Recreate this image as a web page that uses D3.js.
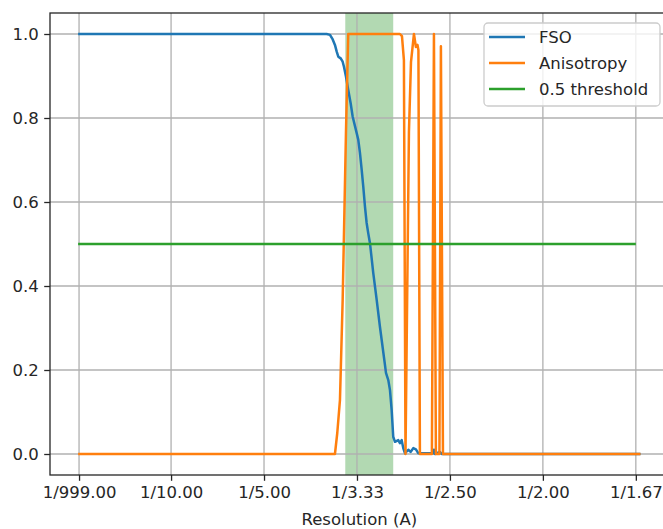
<!DOCTYPE html>
<html>
<head>
<meta charset="utf-8">
<script src="https://cdn.jsdelivr.net/npm/d3@7"></script>
<style>
  body { margin: 0; background: white; }
  text { font-family: "DejaVu Sans", sans-serif; fill: #262626; }
</style>
</head>
<body>
<svg id="chart"></svg>
<script>
// frequency (1/A) and value pairs
var fsoFreq = [0, 0.2674, 0.2710, 0.2739, 0.2763, 0.2782, 0.2799, 0.2825, 0.2846, 0.2860, 0.2882, 0.2906, 0.2932, 0.2954, 0.2997, 0.3014, 0.3032, 0.3051, 0.3068, 0.3086, 0.3104, 0.3121, 0.3140, 0.3175, 0.3212, 0.3247, 0.3301, 0.3312, 0.3337, 0.3355, 0.3373, 0.3390, 0.3409, 0.3444, 0.3462, 0.3481, 0.3498, 0.3516, 0.3552, 0.3577, 0.3606, 0.3634, 0.3659, 0.3820, 0.3828, 0.3839, 0.3892, 0.3911, 0.605]
var fsoValues = [1.0, 1.0, 0.998, 0.987, 0.974, 0.958, 0.946, 0.942, 0.934, 0.922, 0.898, 0.867, 0.835, 0.803, 0.764, 0.748, 0.717, 0.676, 0.636, 0.589, 0.550, 0.526, 0.502, 0.431, 0.367, 0.303, 0.212, 0.193, 0.176, 0.152, 0.105, 0.041, 0.029, 0.033, 0.026, 0.033, 0.014, 0.002, 0.010, 0.005, 0.014, 0.011, 0.002, 0.002, 0.010, 0.0, 0.005, 0.0, 0.0]

var anisoFreq = [0, 0.2763, 0.2788, 0.2817, 0.2846, 0.2882, 0.2906, 0.3462, 0.3484, 0.3505, 0.3522, 0.3559, 0.3581, 0.3613, 0.3634, 0.3651, 0.3661, 0.3677, 0.3806, 0.3828, 0.3849, 0.3887, 0.3903, 0.3925, 0.605]
var anisoValues = [0, 0, 0.05, 0.129, 0.367, 0.771, 1.0, 1.0, 0.995, 0.938, 0, 0.767, 0.933, 1.0, 0.969, 0.974, 0.962, 0, 0, 1.0, 0, 0, 0.971, 0, 0]

var thresholdFreq = [0, 0.6]
var thresholdValues = [0.5, 0.5]

var spanFreq = [0.2874, 0.3390]

var xTicks = [0.001, 0.1, 0.2, 0.3, 0.4, 0.5, 0.6]
var xTickLabels = ["1/999.00", "1/10.00", "1/5.00", "1/3.33", "1/2.50", "1/2.00", "1/1.67"]
var yTicks = [0, 0.2, 0.4, 0.6, 0.8, 1.0]

var seriesNames = ["FSO", "Anisotropy", "0.5 threshold"]
var seriesColors = ["#1f77b4", "#ff7f0e", "#2ca02c"]

var dimensions = {
    width: 663,
    height: 529,
    margin: { top: 13, bottom: 54, left: 50, right: -5.6 }
}

var svg = d3.select("#chart")
    .attr("width", dimensions.width)
    .attr("height", dimensions.height)

var xScale = d3.scaleLinear()
    .domain([-0.03025, 0.63525])
    .range([dimensions.margin.left, dimensions.width - dimensions.margin.right])

var yScale = d3.scaleLinear()
    .domain([-0.05, 1.05])
    .range([dimensions.height - dimensions.margin.bottom, dimensions.margin.top])

var plotTop = yScale.range()[1], plotBottom = yScale.range()[0]
var plotLeft = xScale.range()[0], plotRight = xScale.range()[1]

// shaded resolution band
svg.append("rect")
    .attr("x", xScale(spanFreq[0]))
    .attr("y", plotTop)
    .attr("width", xScale(spanFreq[1]) - xScale(spanFreq[0]))
    .attr("height", plotBottom - plotTop)
    .attr("fill", "green")
    .attr("fill-opacity", 0.3)

// grid
svg.append("g").selectAll("line")
    .data(xTicks).join("line")
    .attr("x1", d => xScale(d)).attr("x2", d => xScale(d))
    .attr("y1", plotTop).attr("y2", plotBottom)
    .attr("stroke", "#b0b0b0").attr("stroke-width", 1.3)

svg.append("g").selectAll("line")
    .data(yTicks).join("line")
    .attr("x1", plotLeft).attr("x2", plotRight)
    .attr("y1", d => yScale(d)).attr("y2", d => yScale(d))
    .attr("stroke", "#b0b0b0").attr("stroke-width", 1.3)

var line = d3.line()
    .x(d => xScale(d[0]))
    .y(d => yScale(d[1]))

var series = [
    d3.zip(fsoFreq, fsoValues),
    d3.zip(anisoFreq, anisoValues),
    d3.zip(thresholdFreq, thresholdValues)
]

series.forEach(function(s, i){
    svg.append("path")
        .datum(s)
        .attr("d", line)
        .attr("fill", "none")
        .attr("stroke", seriesColors[i])
        .attr("stroke-width", 2.5)
        .attr("stroke-linejoin", "round")
        .attr("stroke-linecap", "butt")
})

// axes
var xAxisGen = d3.axisBottom(xScale)
    .tickValues(xTicks)
    .tickFormat((d, i) => xTickLabels[i])
    .tickSize(5.8)
    .tickPadding(5)

var yAxisGen = d3.axisLeft(yScale)
    .tickValues(yTicks)
    .tickFormat(d3.format(".1f"))
    .tickSize(5.8)
    .tickPadding(5.5)

var xAxis = svg.append("g")
    .attr("transform", "translate(0," + plotBottom + ")")
    .call(xAxisGen)
var yAxis = svg.append("g")
    .attr("transform", "translate(" + plotLeft + ",0)")
    .call(yAxisGen)

;[xAxis, yAxis].forEach(function(a){
    a.select(".domain").remove()
    a.selectAll(".tick line").attr("stroke", "#262626").attr("stroke-width", 1.3)
    a.selectAll(".tick text")
        .style("font-family", "'DejaVu Sans', sans-serif")
        .style("font-size", "16.5px")
        .attr("fill", "#262626")
})

// frame
svg.append("rect")
    .attr("x", plotLeft).attr("y", plotTop)
    .attr("width", plotRight - plotLeft).attr("height", plotBottom - plotTop)
    .attr("fill", "none")
    .attr("stroke", "#262626")
    .attr("stroke-width", 1.3)

svg.append("text")
    .attr("x", (plotLeft + plotRight) / 2)
    .attr("y", 525)
    .attr("text-anchor", "middle")
    .style("font-size", "16.5px")
    .text("Resolution (A)")

// legend
var legend = svg.append("g")
legend.append("rect")
    .attr("x", 484).attr("y", 23)
    .attr("width", 176).attr("height", 83)
    .attr("rx", 4)
    .attr("fill", "white").attr("fill-opacity", 0.8)
    .attr("stroke", "#cccccc").attr("stroke-width", 1.3)

seriesNames.forEach(function(name, i){
    var yy = 37 + i * 26
    legend.append("line")
        .attr("x1", 489).attr("x2", 525)
        .attr("y1", yy).attr("y2", yy)
        .attr("stroke", seriesColors[i])
        .attr("stroke-width", 2.5)
    legend.append("text")
        .attr("x", 539).attr("y", yy)
        .attr("dy", "0.35em")
        .style("font-size", "16.5px")
        .text(name)
})
</script>
</body>
</html>
